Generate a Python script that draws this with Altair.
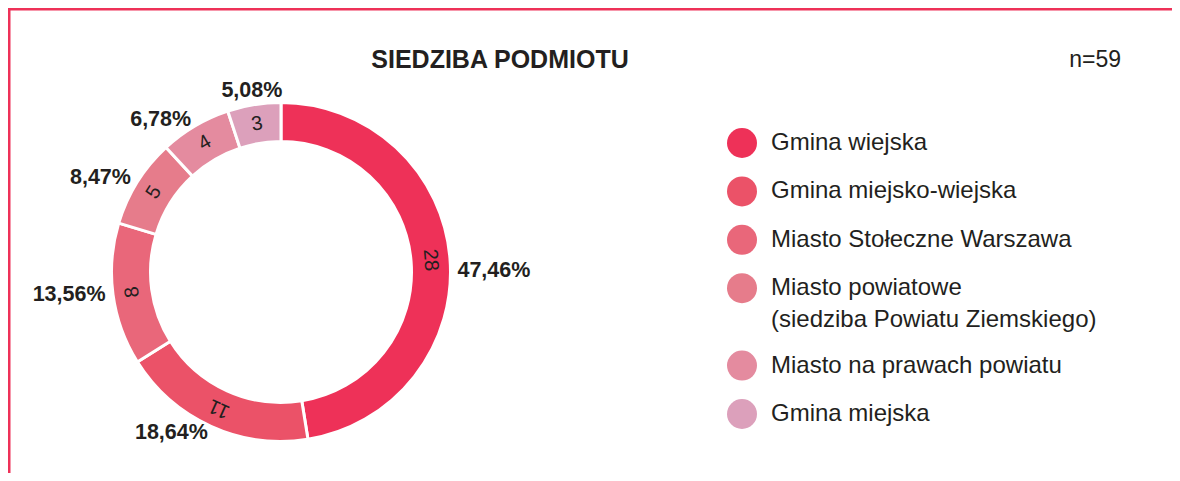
import altair as alt
import pandas as pd

# ---- data ----
categories = [
    "Gmina wiejska",
    "Gmina miejsko-wiejska",
    "Miasto Stołeczne Warszawa",
    "Miasto powiatowe\n(siedziba Powiatu Ziemskiego)",
    "Miasto na prawach powiatu",
    "Gmina miejska",
]
counts = [28, 11, 8, 5, 4, 3]
colors = ["#EE3158", "#EB5268", "#E9677A", "#E67C8B", "#E48B9F", "#DCA0BB"]
title_text = "SIEDZIBA PODMIOTU"
n_text = "n=59"

FONT = "Liberation Sans"
INK = "#231F20"
W, H = 1164, 465
CX, CY = 273, 264
R_OUT, R_IN = 169.5, 130.5

df = pd.DataFrame({"kategoria": categories, "liczba": counts,
                   "kolejnosc": list(range(len(categories)))})

base = (
    alt.Chart(df)
    .transform_joinaggregate(total="sum(liczba)")
    .transform_window(cum="sum(liczba)", sort=[alt.SortField("kolejnosc")], frame=[None, 0])
    .transform_calculate(
        mid="(datum.cum - datum.liczba / 2) / datum.total * 2 * PI",
        mid_deg="(datum.cum - datum.liczba / 2) / datum.total * 360",
        pct="replace(format(datum.liczba / datum.total * 100, '.2f'), '.', ',') + '%'",
    )
)

arc = base.mark_arc(outerRadius=R_OUT, innerRadius=R_IN, stroke="white", strokeWidth=3).encode(
    theta=alt.Theta("liczba:Q", stack=True),
    order=alt.Order("kolejnosc:Q"),
    color=alt.Color(
        "kategoria:N",
        scale=alt.Scale(domain=categories, range=colors),
        legend=alt.Legend(
            title=None,
            orient="none",
            legendX=719,
            legendY=120,
            symbolType="circle",
            symbolSize=900,
            symbolStrokeWidth=0,
            labelFont=FONT,
            labelFontSize=24,
            labelColor=INK,
            labelOffset=14,
            labelLimit=0,
            rowPadding=18.4,
            padding=0,
            labelExpr="split(datum.label, '\\n')",
        ),
    ),
    x=alt.value(CX),
    y=alt.value(CY),
)

inner = base.mark_text(font=FONT, fontSize=20, color=INK, align="center", baseline="middle").encode(
    theta=alt.Theta("mid:Q", scale=None, stack=False),
    radius=alt.value((R_OUT + R_IN) / 2),
    angle=alt.Angle("mid_deg:Q", scale=None),
    text=alt.Text("liczba:Q"),
    x=alt.value(CX),
    y=alt.value(CY),
)

def pct_layer(cond, align, radius, dy=0):
    return base.transform_filter(cond).mark_text(
        font=FONT, fontSize=21.5, fontWeight="bold", color=INK, align=align,
        baseline="middle", dy=dy
    ).encode(
        theta=alt.Theta("mid:Q", scale=None, stack=False),
        radius=alt.value(radius),
        text=alt.Text("pct:N"),
        x=alt.value(CX),
        y=alt.value(CY),
    )

pct_right = pct_layer("datum.mid_deg < 180", "left", 177, dy=13)
pct_left = pct_layer("datum.mid_deg >= 180 && datum.mid_deg < 340", "right", 177)
pct_top = pct_layer("datum.mid_deg >= 340", "center", 183)

txt = pd.DataFrame({"t": [title_text], "n": [n_text]})
title = alt.Chart(txt).mark_text(font=FONT, fontSize=25, fontWeight="bold", color=INK,
                                 align="center", baseline="middle").encode(
    text="t:N", x=alt.value(492), y=alt.value(52))
ntext = alt.Chart(txt).mark_text(font=FONT, fontSize=23, color=INK,
                                 align="right", baseline="middle").encode(
    text="n:N", x=alt.value(1113), y=alt.value(52))

frame_top = alt.Chart(txt).mark_rule(color="#EE3158", strokeWidth=3).encode(
    x=alt.value(0), x2=alt.value(W), y=alt.value(1))
frame_left = alt.Chart(txt).mark_rule(color="#EE3158", strokeWidth=3).encode(
    x=alt.value(1), y=alt.value(0), y2=alt.value(H))

chart = (
    alt.layer(frame_top, frame_left, arc, inner, pct_right, pct_left, pct_top, title, ntext)
    .properties(width=W, height=H, autosize=alt.AutoSizeParams(type="none"), padding=0,
                background="white")
    .configure(style={"guide-label": {"lineHeight": 32}})
    .configure_view(stroke=None)
)

chart.save("out.html", embed_options={"renderer": "svg", "actions": False})
